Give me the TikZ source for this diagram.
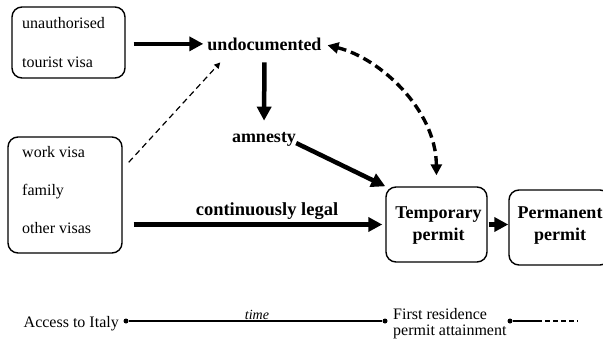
\documentclass[tikz,border=0pt]{standalone}
\usepackage{fontspec}
\setmainfont{Liberation Serif}
\usetikzlibrary{arrows.meta}
\begin{document}
\begin{tikzpicture}[x=1pt,y=-1pt,
  box/.style={draw, line width=1.4pt, rounded corners=10pt, inner sep=0pt},
  reg/.style={font=\fontsize{16}{18}\selectfont, inner sep=0pt},
  bld/.style={font=\fontsize{18}{21}\selectfont\bfseries, inner sep=0pt},
  bigarrow/.style={line width=4.5pt, -{Triangle[length=14pt,width=14pt]}},
  dashcurve/.style={line width=3.4pt, dash pattern=on 9pt off 5pt,
     {Triangle[length=11pt,width=11pt]}-{Triangle[length=11pt,width=11pt]}},
  thindash/.style={line width=1.2pt, dash pattern=on 6pt off 4pt, -{Triangle[length=6pt,width=6pt]}},
  dotnode/.style={circle, fill, inner sep=0pt, minimum size=5pt},
  tline/.style={line width=1.5pt}
]
\useasboundingbox (0,0) rectangle (603,341);
\clip (0,0) rectangle (603,341);

% boxes
\node[box, minimum width=113pt, minimum height=71pt] (b1) at (68.5,42.5) {};
\node[box, minimum width=114pt, minimum height=116pt] (b2) at (65,195) {};
\node[box, minimum width=101pt, minimum height=75pt] (temp) at (436.5,224.5) {};
\node[box, minimum width=101pt, minimum height=75pt] (perm) at (559.5,227.5) {};

% box texts
\node[reg, anchor=base west] (t11) at (22,28) {unauthorised};
\node[reg, anchor=base west] (t12) at (22,67) {tourist visa};
\node[reg, anchor=base west] (t21) at (22,157) {work visa};
\node[reg, anchor=base west] (t22) at (22,195) {family};
\node[reg, anchor=base west] (t23) at (22,233) {other visas};
\node[bld, anchor=base] (tp1) at (438.5,218) {Temporary};
\node[bld, anchor=base] (tp2) at (438.5,240) {permit};
\node[bld, anchor=base] (pp1) at (560,218) {Permanent};
\node[bld, anchor=base] (pp2) at (560,240) {permit};

% free labels
\node[bld, anchor=base] (und) at (264.5,50) {undocumented};
\node[bld, anchor=base] (amn) at (264,142) {amnesty};
\node[bld, anchor=base, font=\fontsize{18.5}{21}\selectfont\bfseries] (cl) at (267,215) {continuously legal};

% arrows
\draw[bigarrow, shorten <=8pt, shorten >=4pt] (b1.east |- und.west) -- (und.west);
\draw[bigarrow, shorten <=12pt, shorten >=11pt] (und.south) -- (amn.north);
\draw[bigarrow] ([shift={(0,-3)}]amn.south east) -- (temp.north west);
\draw[bigarrow, shorten <=11pt, shorten >=3pt] (b2.east |- temp.west) -- (temp.west);
\draw[bigarrow, shorten <=1pt] (temp.east) -- (temp.east -| perm.west);
\draw[thindash] ([shift={(6,26)}]b2.north east) -- ([shift={(13,12)}]und.south west);
\draw[dashcurve, shorten <=6pt, shorten >=11pt] (und.east) .. controls (380,58) and (436,110) .. (temp.north);

% timeline
\node[dotnode] (d1) at (126,321) {};
\node[dotnode] (d2) at (385,321) {};
\node[dotnode] (d3) at (510,321) {};
\coordinate (tmid) at (537,321);
\coordinate (tend) at (578,321);
\draw[tline] (d1) -- (d2);
\draw[tline] (d3) -- (tmid);
\draw[tline, dash pattern=on 5pt off 3pt] (tmid) -- (tend);
\node[reg, anchor=base east] (acc) at (119,327) {Access to Italy};
\node[font=\fontsize{14}{16}\selectfont\itshape, inner sep=0pt, anchor=base] (time) at (257,319) {time};
\node[reg, anchor=base west] (fr1) at (393,319) {First residence};
\node[reg, anchor=base west] (fr2) at (393,335) {permit attainment};
\end{tikzpicture}
\end{document}
